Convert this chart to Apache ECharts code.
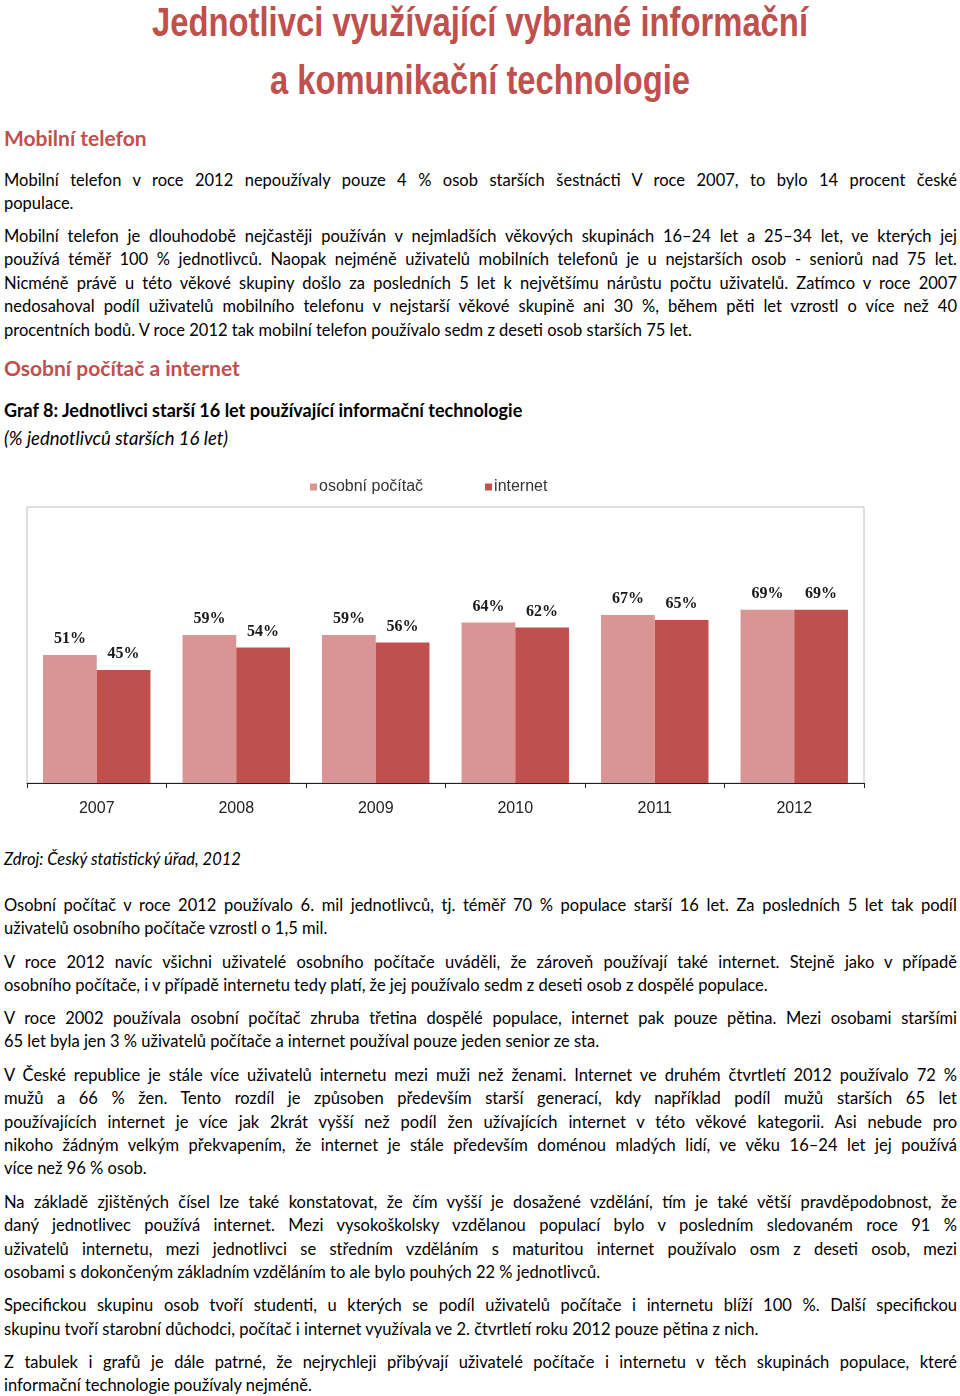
<!DOCTYPE html>
<html><head><meta charset="utf-8">
<script src="https://cdn.jsdelivr.net/npm/echarts@6/dist/echarts.min.js"></script>
<style>
html,body{margin:0;padding:0;background:#fff;}
body{width:960px;height:1396px;position:relative;overflow:hidden;font-family:Lato,"Open Sans",sans-serif;color:#000;}
.ln{position:absolute;left:4px;width:953px;height:23px;line-height:23px;font-size:16.5px;white-space:nowrap;}
.j{text-align:justify;text-align-last:justify;}
.title{position:absolute;font-family:"Liberation Sans Narrow","Liberation Sans",Arial,sans-serif;font-weight:bold;color:#c0504d;font-size:41px;line-height:46px;white-space:nowrap;transform-origin:0 0;}
.h{position:absolute;left:4px;color:#c0504d;font-size:21px;font-weight:bold;line-height:26px;font-family:Lato,sans-serif;white-space:nowrap;}
#chart{position:absolute;left:0;top:460px;width:960px;height:380px;}
</style></head><body>
<div class="title" id="t1" data-x="152" data-w="656" style="top:-1px;left:152px;">Jednotlivci využívající vybrané informační</div>
<div class="title" id="t2" data-x="270" data-w="420" style="top:57px;left:270px;">a komunikační technologie</div>
<div class="h" style="top:125px;">Mobilní telefon</div>
<div id="text"></div>
<div id="chart"></div>
<script>
// ---- chart data ----
var categories = ['2007','2008','2009','2010','2011','2012'];
var pcValues = [51, 59, 59, 64, 67, 69];
var internetValues = [45, 54, 56, 62, 65, 69];
var seriesNames = ['osobní počítač', 'internet'];

// ---- text lines: [centerY, text, justified, style] ----
var lines = [
 [180,'Mobilní telefon v roce 2012 nepoužívaly pouze 4 % osob starších šestnácti V roce 2007, to bylo 14 procent české',1],
 [203,'populace.',0],
 [236,'Mobilní telefon je dlouhodobě nejčastěji používán v nejmladších věkových skupinách 16–24 let a 25–34 let, ve kterých jej',1],
 [259,'používá téměř 100 % jednotlivců. Naopak nejméně uživatelů mobilních telefonů je u nejstarších osob -  seniorů nad 75 let.',1],
 [283,'Nicméně právě u této věkové skupiny došlo za posledních 5 let k největšímu nárůstu počtu uživatelů. Zatímco v roce 2007',1],
 [306,'nedosahoval podíl uživatelů mobilního telefonu v nejstarší věkové skupině ani 30 %, během pěti let vzrostl o více než 40',1],
 [330,'procentních bodů. V roce 2012 tak mobilní telefon používalo sedm z deseti osob starších 75 let.',0],
 [368,'Osobní počítač a internet',0,'h'],
 [410,'Graf 8: Jednotlivci starší 16 let používající informační technologie',0,'b'],
 [438,'(% jednotlivců starších 16 let)',0,'i2'],
 [859,'Zdroj: Český statistický úřad, 2012',0,'i'],
 [905,'Osobní počítač v roce 2012 používalo 6. mil jednotlivců, tj. téměř 70 % populace starší 16 let. Za posledních 5 let tak podíl',1],
 [928,'uživatelů osobního počítače vzrostl o 1,5 mil.',0],
 [962,'V roce 2012 navíc všichni uživatelé osobního počítače uváděli, že zároveň používají také internet. Stejně jako v případě',1],
 [985,'osobního počítače, i v případě internetu tedy platí, že jej používalo sedm z deseti osob z dospělé populace.',0],
 [1018,'V roce 2002 používala osobní počítač zhruba třetina dospělé populace, internet pak pouze pětina. Mezi osobami staršími',1],
 [1041,'65 let byla jen 3 % uživatelů počítače a internet používal pouze jeden senior ze sta.',0],
 [1075,'V České republice je stále více uživatelů internetu mezi muži než ženami. Internet ve druhém čtvrtletí 2012 používalo 72 %',1],
 [1098,'mužů a 66 % žen. Tento rozdíl je způsoben především starší generací, kdy například podíl mužů starších 65 let',1],
 [1122,'používajících internet je více jak 2krát vyšší než podíl žen užívajících internet v této věkové kategorii. Asi nebude pro',1],
 [1145,'nikoho žádným velkým překvapením, že internet je stále především doménou mladých lidí, ve věku 16–24 let jej používá',1],
 [1168,'více než 96 % osob.',0],
 [1202,'Na základě zjištěných čísel lze také konstatovat, že čím vyšší je dosažené vzdělání, tím je také větší pravděpodobnost, že',1],
 [1225,'daný jednotlivec používá internet. Mezi vysokoškolsky vzdělanou populací bylo v posledním sledovaném roce 91 %',1],
 [1249,'uživatelů internetu, mezi jednotlivci se středním vzděláním s maturitou internet používalo osm z deseti osob, mezi',1],
 [1272,'osobami s dokončeným základním vzděláním to ale bylo pouhých 22 % jednotlivců.',0],
 [1305,'Specifickou skupinu osob tvoří studenti, u kterých se podíl uživatelů počítače i internetu blíží 100 %. Další specifickou',1],
 [1329,'skupinu tvoří starobní důchodci, počítač i internet využívala ve 2. čtvrtletí roku 2012 pouze pětina z nich.',0],
 [1362,'Z tabulek i grafů je dále patrné, že nejrychleji přibývají uživatelé počítače i internetu v těch skupinách populace, které',1],
 [1385,'informační technologie používaly nejméně.',0]
];
var host = document.getElementById('text');
var cv = document.createElement('canvas').getContext('2d');
lines.forEach(function(l){
  var d = document.createElement('div');
  d.className = 'ln' + (l[2] ? ' j' : '');
  d.style.top = (l[0] - 11.5) + 'px';
  d.textContent = l[1];
  var fs = 16.5, weight = 'normal', style = 'normal';
  if (l[3] === 'h') { d.style.color = '#c0504d'; fs = 21; weight = 'bold'; d.style.top = (l[0]-13)+'px'; d.style.height='26px'; d.style.lineHeight='26px'; }
  if (l[3] === 'b') { weight = 'bold'; fs = 18; }
  if (l[3] === 'i') { style = 'italic'; }
  if (l[3] === 'i2') { style = 'italic'; fs = 18.5; }
  d.style.fontWeight = weight; d.style.fontStyle = style;
  cv.font = style + ' ' + weight + ' ' + fs + 'px Lato';
  var w = cv.measureText(l[1]).width;
  if (w > 950) fs = fs * 950 / w;
  d.style.fontSize = fs + 'px';
  host.appendChild(d);
});
// fit titles
['t1','t2'].forEach(function(id){
  var el = document.getElementById(id);
  var w = el.getBoundingClientRect().width;
  var tw = +el.getAttribute('data-w');
  el.style.transform = 'scaleX(' + (tw / w) + ')';
});

var chart = echarts.init(document.getElementById('chart'), null, {renderer:'canvas'});
var lblStyle = {show:true, position:'top', distance:8, formatter:'{c}%', fontFamily:'"Liberation Serif", "Times New Roman", serif', fontWeight:'bold', fontSize:16, color:'#1a1a1a'};
chart.setOption({
  animation:false,
  legend:{left:305, top:14, itemWidth:7, itemHeight:7, itemGap:62, icon:'rect',
    textStyle:{fontFamily:'"Liberation Sans Narrow","Liberation Sans",Arial,sans-serif', fontSize:16, color:'#333', padding:[0,0,0,-3]},
    data:seriesNames},
  grid:{left:27, top:47, width:837, height:276, show:true, borderColor:'#c0c0c0', borderWidth:1, backgroundColor:'#fff'},
  xAxis:{type:'category', data:categories,
    axisLine:{lineStyle:{color:'#222', width:1}},
    axisTick:{show:true, length:5, lineStyle:{color:'#222'}},
    axisLabel:{margin:18, fontFamily:'"Liberation Sans Narrow","Liberation Sans",Arial,sans-serif', fontSize:16, color:'#222'}},
  yAxis:{type:'value', min:0, max:110, show:false, splitLine:{show:false}},
  series:[
    {name:seriesNames[0], type:'bar', data:pcValues, itemStyle:{color:'#d99594'}, barGap:'0%', barCategoryGap:'23%', label:lblStyle},
    {name:seriesNames[1], type:'bar', data:internetValues, itemStyle:{color:'#c0504d'}, label:lblStyle}
  ]
});
</script>
</body></html>
